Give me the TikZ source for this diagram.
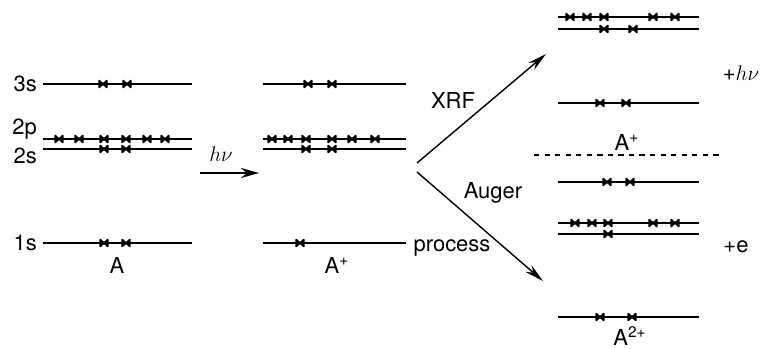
\documentclass[tikz,border=0pt]{standalone}
\usepackage{fontspec}
\setmainfont{TeX Gyre Heros}
\usetikzlibrary{arrows.meta}
\tikzset{
  level/.style={line width=0.8pt},
  elec/.pic={\filldraw[line width=0.9pt, line join=round] (-0.075,0.07) -- (0.075,-0.07) -- (0.075,0.07) -- (-0.075,-0.07) -- cycle;},
  branch/.style={-{Stealth[length=0.38cm,width=0.18cm]}, line width=0.8pt},
}

\begin{document}
\begin{tikzpicture}[scale=1.0, font=\fontsize{12.5}{15}\selectfont]
  \useasboundingbox (0,0) rectangle (15.2,6.98);

  % Atom A
  \draw[level] (0.86,5.30) -- (3.84,5.30);
  \draw[level] (0.86,4.20) -- (3.84,4.20);
  \draw[level] (0.86,4.00) -- (3.84,4.00);
  \draw[level] (0.86,2.12) -- (3.84,2.12);
  \foreach \x in {2.06,2.54} \pic at (\x,5.30) {elec};
  \foreach \x in {1.18,1.58,2.08,2.52,2.94,3.30} \pic at (\x,4.20) {elec};
  \foreach \x in {2.08,2.52} \pic at (\x,4.00) {elec};
  \foreach \x in {2.08,2.52} \pic at (\x,2.12) {elec};

  \node[anchor=east] (l3s) at (0.86,5.30) {3s};
  \node[anchor=east] (l2p) at (0.86,4.40) {2p};
  \node[anchor=east] (l2s) at (0.86,3.86) {2s};
  \node[anchor=east] (l1s) at (0.86,2.12) {1s};
  \node (atomA) at (2.34,1.68) {A};

  % Ionisation
  \coordinate (hvs) at (4.00,3.52);
  \coordinate (hve) at (5.18,3.52);
  \draw[-{Stealth[length=0.36cm,width=0.2cm]}, line width=1.6pt] (hvs) -- (hve);
  \node (hv) at (4.42,3.90) {$h\nu$};

  % Ion A+ with 1s hole
  \draw[level] (5.26,5.30) -- (8.12,5.30);
  \draw[level] (5.26,4.20) -- (8.12,4.20);
  \draw[level] (5.26,4.00) -- (8.12,4.00);
  \draw[level] (5.26,2.12) -- (8.12,2.12);
  \foreach \x in {6.16,6.64} \pic at (\x,5.30) {elec};
  \foreach \x in {5.44,5.76,6.12,6.64,7.04,7.50} \pic at (\x,4.20) {elec};
  \foreach \x in {6.12,6.64} \pic at (\x,4.00) {elec};
  \pic at (6.00,2.12) {elec};
  \node (ionA) at (6.74,1.68) {A\textsuperscript{+}};

  % Decay branches
  \coordinate (split1) at (8.34,3.72);
  \coordinate (xrfend) at (10.92,5.90);
  \coordinate (split2) at (8.34,3.54);
  \coordinate (augend) at (10.86,1.36);
  \draw[branch] (split1) -- (xrfend);
  \draw[branch] (split2) -- (augend);
  \node (xrf) at (9.06,4.98) {XRF};
  \node (auger) at (9.86,3.12) {Auger};
  \node (process) at (9.04,2.02) {process};

  % After XRF
  \draw[level] (11.16,6.64) -- (13.98,6.64);
  \draw[level] (11.16,6.40) -- (13.98,6.40);
  \draw[level] (11.16,4.92) -- (13.98,4.92);
  \foreach \x in {11.40,11.74,12.08,13.06,13.50} \pic at (\x,6.64) {elec};
  \foreach \x in {12.08,12.66} \pic at (\x,6.40) {elec};
  \foreach \x in {12.00,12.52} \pic at (\x,4.92) {elec};
  \node (xrfA) at (12.54,4.14) {A\textsuperscript{+}};
  \node (photon) at (14.82,5.52) {+$h\nu$};

  \draw[dashed, line width=0.7pt] (10.68,3.88) -- (14.46,3.88);

  % After Auger
  \draw[level] (11.16,3.34) -- (13.98,3.34);
  \draw[level] (11.16,2.52) -- (13.98,2.52);
  \draw[level] (11.16,2.30) -- (13.98,2.30);
  \draw[level] (11.16,0.64) -- (13.98,0.64);
  \foreach \x in {12.14,12.60} \pic at (\x,3.34) {elec};
  \foreach \x in {11.50,11.84,12.16,13.06,13.50} \pic at (\x,2.52) {elec};
  \pic at (12.16,2.30) {elec};
  \foreach \x in {12.00,12.64} \pic at (\x,0.64) {elec};
  \node[inner sep=1pt] (augA) at (12.60,0.26) {A\textsuperscript{2+}};
  \node (electron) at (14.72,2.04) {+e};
\end{tikzpicture}
\end{document}
